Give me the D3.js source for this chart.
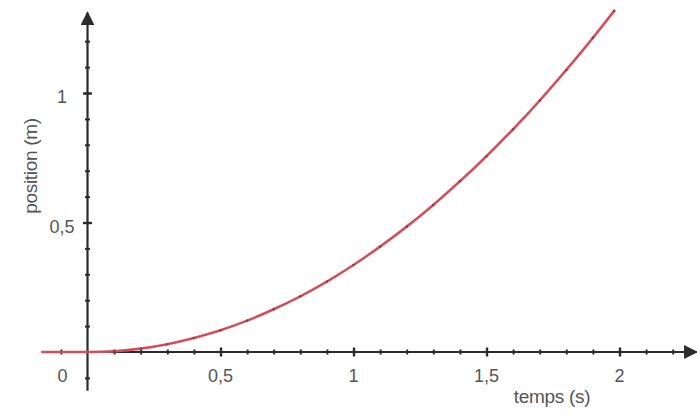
<!DOCTYPE html>
<html>
<head>
<meta charset="utf-8">
<script src="https://cdn.jsdelivr.net/npm/d3@7/dist/d3.min.js"></script>
<style>
  html, body { margin: 0; padding: 0; background: #fff; }
  text { font-family: "Liberation Sans", Arial, sans-serif; fill: #555; }
</style>
</head>
<body>
<svg id="chart" width="697" height="414"></svg>
<script>
// Measured position of the moving body (m) against time (s)
const times     = [-0.17, -0.1, 0, 0.1, 0.2, 0.3, 0.4, 0.5, 0.6, 0.7, 0.8, 0.9, 1.0, 1.1, 1.2, 1.3, 1.4, 1.5, 1.6, 1.7, 1.8, 1.9, 1.98];
const positions = [0, 0, 0, 0.003, 0.013, 0.030, 0.054, 0.084, 0.121, 0.165, 0.215, 0.272, 0.336, 0.407, 0.484, 0.568, 0.659, 0.756, 0.860, 0.971, 1.089, 1.213, 1.317];

// Axis graduations
const xMinorTicks = d3.range(-0.1, 2.25, 0.1).map(v => +v.toFixed(1)).filter(v => v !== 0);
const xMajorTicks = [0.5, 1, 1.5, 2];
const yMinorTicks = d3.range(-0.1, 1.25, 0.1).map(v => +v.toFixed(1)).filter(v => v !== 0);
const yMajorTicks = [0.5, 1];
const xTickLabels = ["0,5", "1", "1,5", "2"];
const yTickLabels = ["0,5", "1"];
const xTitle = "temps (s)";
const yTitle = "position (m)";

const svg = d3.select("#chart");

const x = d3.scaleLinear().domain([0, 2]).range([87.5, 619.5]);
const y = d3.scaleLinear().domain([0, 1]).range([352, 93]);

const axisColor = "#2b2b2b";

// arrowheads
const defs = svg.append("defs");
defs.append("marker")
  .attr("id", "arrow")
  .attr("viewBox", "0 0 10 10")
  .attr("refX", 9).attr("refY", 5)
  .attr("markerWidth", 14).attr("markerHeight", 14)
  .attr("markerUnits", "userSpaceOnUse")
  .attr("orient", "auto")
  .append("path")
  .attr("d", "M0,0 L10,5 L0,10 Z")
  .attr("fill", axisColor);

// axis lines
svg.append("line")
  .attr("x1", x(-0.17)).attr("x2", x(2.29))
  .attr("y1", y(0)).attr("y2", y(0))
  .attr("stroke", axisColor).attr("stroke-width", 2)
  .attr("marker-end", "url(#arrow)");

svg.append("line")
  .attr("x1", x(0)).attr("x2", x(0))
  .attr("y1", y(-0.15)).attr("y2", y(1.31))
  .attr("stroke", axisColor).attr("stroke-width", 2.2)
  .attr("marker-end", "url(#arrow)");

// minor and major graduations through d3 axes
function styleTicks(g, width) {
  g.select(".domain").remove();
  g.selectAll(".tick line").attr("stroke", axisColor).attr("stroke-width", width);
  g.selectAll(".tick text").remove();
}

svg.append("g")
  .attr("transform", `translate(0,${y(0) - 2.5})`)
  .call(d3.axisBottom(x).tickValues(xMinorTicks).tickSize(5))
  .call(g => styleTicks(g, 2));

svg.append("g")
  .attr("transform", `translate(0,${y(0) - 4.5})`)
  .call(d3.axisBottom(x).tickValues(xMajorTicks).tickSize(9))
  .call(g => styleTicks(g, 2.4));

svg.append("g")
  .attr("transform", `translate(${x(0) - 2.5},0)`)
  .call(d3.axisRight(y).tickValues(yMinorTicks).tickSize(5))
  .call(g => styleTicks(g, 2));

svg.append("g")
  .attr("transform", `translate(${x(0) - 4.5},0)`)
  .call(d3.axisRight(y).tickValues(yMajorTicks).tickSize(9))
  .call(g => styleTicks(g, 2.4));

// tick labels
svg.append("g").selectAll("text")
  .data(xMajorTicks)
  .join("text")
  .attr("x", d => x(d))
  .attr("y", y(0) + 30)
  .attr("text-anchor", "middle")
  .attr("font-size", 18)
  .text((d, i) => xTickLabels[i]);

svg.append("text")
  .attr("x", x(0) - 25)
  .attr("y", y(0) + 30)
  .attr("text-anchor", "middle")
  .attr("font-size", 18)
  .text("0");

svg.append("g").selectAll("text")
  .data(yMajorTicks)
  .join("text")
  .attr("x", 62)
  .attr("y", d => y(d) + 10)
  .attr("text-anchor", "middle")
  .attr("font-size", 18)
  .text((d, i) => yTickLabels[i]);

// axis titles
svg.append("text")
  .attr("x", 552)
  .attr("y", 403)
  .attr("text-anchor", "middle")
  .attr("font-size", 19)
  .attr("letter-spacing", -0.3)
  .text(xTitle);

svg.append("text")
  .attr("transform", "translate(37,166) rotate(-90)")
  .attr("text-anchor", "middle")
  .attr("font-size", 19)
  .attr("letter-spacing", -0.3)
  .text(yTitle);

// position curve
const line = d3.line()
  .x((d, i) => x(times[i]))
  .y(d => y(d))
  .curve(d3.curveMonotoneX);

svg.append("path")
  .datum(positions)
  .attr("fill", "none")
  .attr("stroke", "#dc5866")
  .attr("stroke-width", 2.6)
  .attr("stroke-linecap", "round")
  .attr("d", line);

svg.append("path")
  .datum(positions)
  .attr("fill", "none")
  .attr("stroke", "#9c3038")
  .attr("stroke-width", 0.8)
  .attr("opacity", 0.5)
  .attr("d", line);

// measurement points
svg.append("g").selectAll("circle")
  .data(positions.slice(3))
  .join("circle")
  .attr("cx", (d, i) => x(times[i + 3]))
  .attr("cy", d => y(d))
  .attr("r", 1.3)
  .attr("fill", "#6a2a30")
  .attr("opacity", 0.6);
</script>
</body>
</html>
